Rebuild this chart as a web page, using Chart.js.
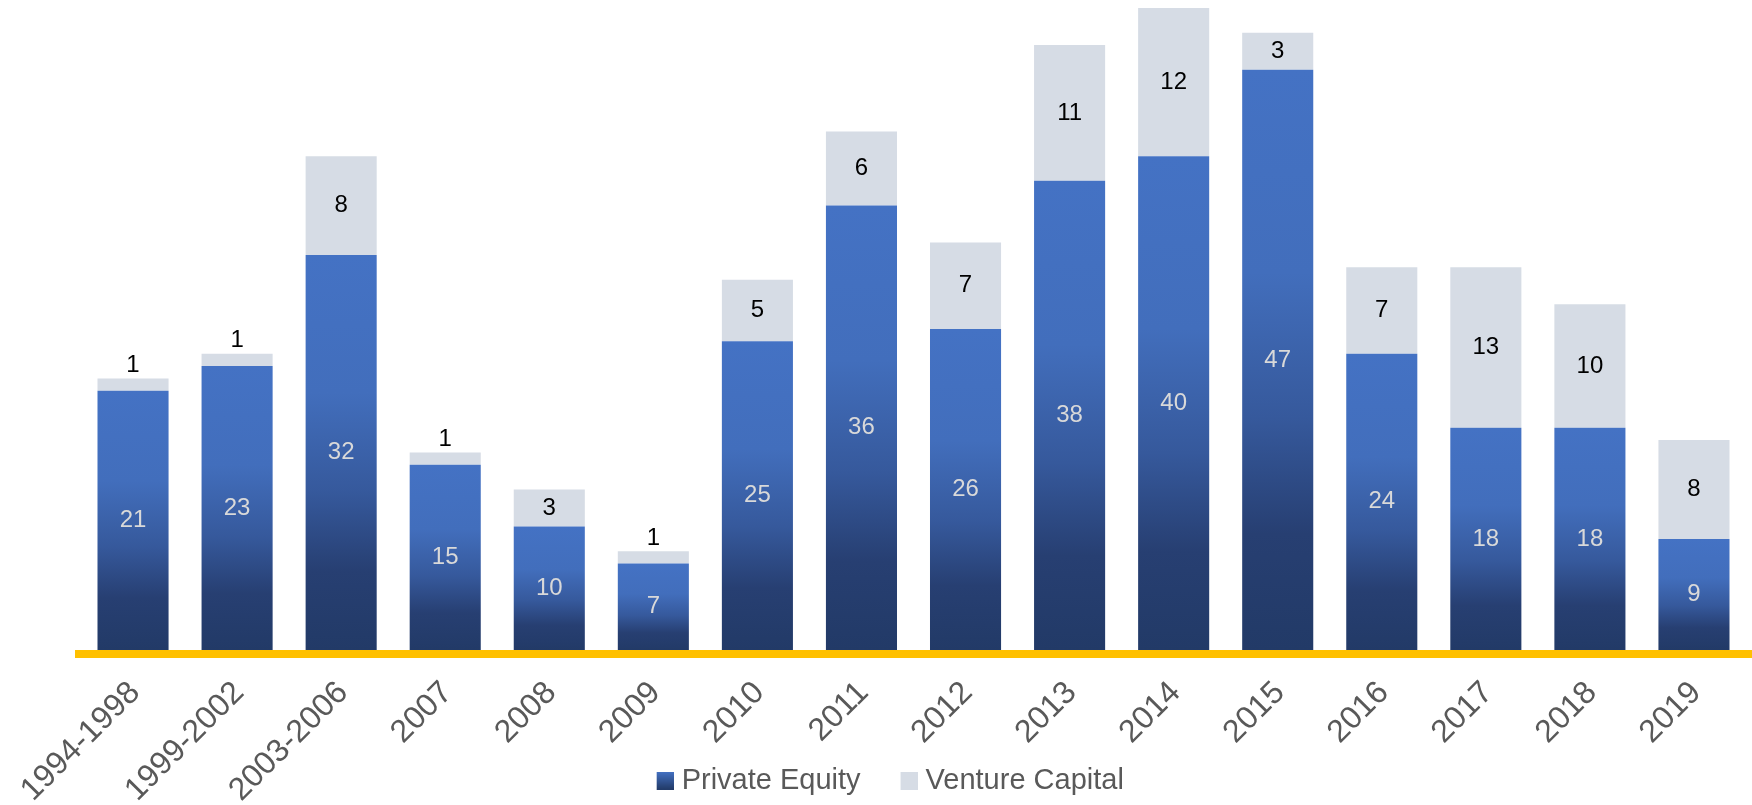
<!DOCTYPE html>
<html>
<head>
<meta charset="utf-8">
<title>Private Equity / Venture Capital</title>
<script src="https://cdn.jsdelivr.net/npm/chart.js@4"></script>
<style>
    html, body { margin: 0; padding: 0; background: #ffffff; overflow: hidden; }
</style>
</head>
<body>
<canvas id="dealsChart" width="1752" height="805"></canvas>
<script>
// Data
const categories = ['1994-1998', '1999-2002', '2003-2006', '2007', '2008', '2009', '2010',
    '2011', '2012', '2013', '2014', '2015', '2016', '2017', '2018', '2019'];
const privateEquity = [21, 23, 32, 15, 10, 7, 25, 36, 26, 38, 40, 47, 24, 18, 18, 9];
const ventureCapital = [1, 1, 8, 1, 3, 1, 5, 6, 7, 11, 12, 3, 7, 13, 10, 8];
const seriesNames = ['Private Equity', 'Venture Capital'];
const yMax = 52.65;

// Colors
const peLight = '#4472C4';
const peDark = '#223A67';
const vcColor = '#D6DCE5';
const axisYellow = '#FFC000';
const tickGray = '#595959';

const baseFont = '"Liberation Sans", Arial, sans-serif';

// Per-bar vertical gradient for the private equity segments
function peGradient(context) {
    const chart = context.chart;
    if (!chart.chartArea || context.type !== 'data') return peLight;
    const yScale = chart.scales.y;
    const top = yScale.getPixelForValue(context.raw);
    const bottom = yScale.getPixelForValue(0);
    const g = chart.ctx.createLinearGradient(0, top, 0, bottom);
    g.addColorStop(0, peLight);
    g.addColorStop(0.35, '#426EBC');
    g.addColorStop(0.6, '#36599C');
    g.addColorStop(0.8, '#273F72');
    g.addColorStop(1, peDark);
    return g;
}

// Legend markers: a 17x18 swatch sitting at the right of a wider transparent image,
// so the swatch ends up close to its text like in the original legend
function makeSwatch(fill, gradient) {
    const c = document.createElement('canvas');
    c.width = 30;
    c.height = 18;
    const cx = c.getContext('2d');
    if (gradient) {
        const g = cx.createLinearGradient(0, 0, 0, c.height);
        g.addColorStop(0, peLight);
        g.addColorStop(1, peDark);
        cx.fillStyle = g;
    } else {
        cx.fillStyle = fill;
    }
    cx.fillRect(13, 0, 17, c.height);
    return c;
}
const swatches = [makeSwatch(null, true), makeSwatch(vcColor, false)];

// Value labels inside / above the segments
const barLabels = {
    id: 'barLabels',
    afterDatasetsDraw(chart) {
        const ctx = chart.ctx;
        ctx.save();
        ctx.font = '24px ' + baseFont;
        ctx.textAlign = 'center';
        ctx.textBaseline = 'middle';
        chart.data.datasets.forEach((ds, i) => {
            const meta = chart.getDatasetMeta(i);
            meta.data.forEach((bar, j) => {
                const h = bar.base - bar.y;
                let y = (bar.y + bar.base) / 2;
                if (i === 1 && h < 25) y = bar.y - 13;
                ctx.fillStyle = i === 0 ? '#D9D9D9' : '#000000';
                ctx.fillText(String(ds.data[j]), bar.x, y);
            });
        });
        ctx.restore();
    }
};

// Thick yellow base line under the bars
const baseLine = {
    id: 'baseLine',
    afterDatasetsDraw(chart) {
        const { ctx, chartArea } = chart;
        ctx.save();
        ctx.fillStyle = axisYellow;
        ctx.fillRect(chartArea.left - 6, chartArea.bottom, chart.width - chartArea.left + 6, 8);
        ctx.restore();
    }
};

// Rotated category labels (drawn here so they can overlap the legend band, as in the original)
const tickLabels = {
    id: 'tickLabels',
    afterDraw(chart) {
        const ctx = chart.ctx;
        const xScale = chart.scales.x;
        const size = 32;
        const lineHeight = size * 1.2;
        const angle = -Math.PI / 4;
        ctx.save();
        ctx.font = size + 'px ' + baseFont;
        ctx.fillStyle = tickGray;
        ctx.textAlign = 'right';
        ctx.textBaseline = 'middle';
        categories.forEach((label, i) => {
            const px = xScale.getPixelForTick(i) + 2 + (lineHeight / 2) * Math.sin(angle);
            const py = chart.chartArea.bottom + 24;
            ctx.save();
            ctx.translate(px, py);
            ctx.rotate(angle);
            ctx.fillText(label, 0, lineHeight / 2);
            ctx.restore();
        });
        ctx.restore();
    }
};

new Chart(document.getElementById('dealsChart'), {
    type: 'bar',
    data: {
        labels: categories,
        datasets: [
            {
                label: seriesNames[0],
                data: privateEquity,
                backgroundColor: peGradient,
                borderWidth: 0,
                barPercentage: 0.683,
                categoryPercentage: 1
            },
            {
                label: seriesNames[1],
                data: ventureCapital,
                backgroundColor: vcColor,
                borderWidth: 0,
                barPercentage: 0.683,
                categoryPercentage: 1
            }
        ]
    },
    options: {
        responsive: false,
        animation: false,
        layout: {
            padding: { left: 22, right: 0, top: 0, bottom: 0 }
        },
        plugins: {
            tooltip: { enabled: false },
            legend: {
                position: 'bottom',
                align: 'center',
                labels: {
                    color: tickGray,
                    font: { size: 29, family: baseFont },
                    usePointStyle: true,
                    pointStyleWidth: 17,
                    boxHeight: 18,
                    padding: 33.5,
                    generateLabels(chart) {
                        const items = Chart.defaults.plugins.legend.labels.generateLabels(chart);
                        items.forEach((item, i) => { item.pointStyle = swatches[i]; });
                        return items;
                    }
                }
            }
        },
        scales: {
            x: {
                stacked: true,
                offset: true,
                grid: { display: false, drawTicks: false },
                border: { display: false },
                ticks: { display: false },
                afterFit(scale) {
                    scale.height = 82.5;
                }
            },
            y: {
                stacked: true,
                min: 0,
                max: yMax,
                grid: { display: false, drawTicks: false },
                border: { display: false },
                ticks: { display: false },
                afterFit(scale) {
                    scale.width = 59;
                }
            },
            // empty axis on the right only to keep the plot 6px off the right edge
            yRight: {
                position: 'right',
                grid: { display: false, drawTicks: false },
                border: { display: false },
                ticks: { display: false },
                afterFit(scale) {
                    scale.width = 6;
                }
            }
        }
    },
    plugins: [barLabels, baseLine, tickLabels]
});
</script>
</body>
</html>
